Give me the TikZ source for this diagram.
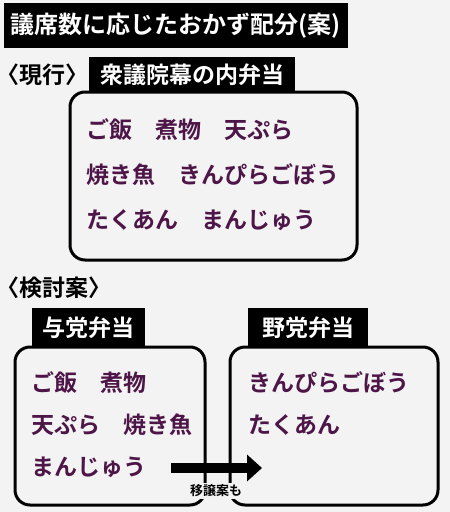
\documentclass[tikz,border=0pt]{standalone}
\usepackage{fontspec}
\setmainfont{Noto Sans CJK JP}[BoldFont={Noto Sans CJK JP Bold}]
\usetikzlibrary{arrows.meta}
\definecolor{bgc}{RGB}{243,243,243}
\definecolor{itemc}{RGB}{78,22,72}
\tikzset{
  blackbox/.style={fill=black, text=white, inner sep=0pt, font=\fontsize{23}{23}\selectfont\bfseries},
  frame/.style={draw=black, line width=3pt, rounded corners=15pt},
  item/.style={anchor=west, inner sep=0pt, text=itemc, font=\fontsize{23}{23}\selectfont\bfseries},
  section/.style={anchor=west, inner sep=0pt, text=black, font=\fontsize{23}{23}\selectfont\bfseries\addfontfeatures{RawFeature=+halt}},
  note/.style={fill=bgc, inner sep=2pt, text=black, font=\fontsize{13}{13}\selectfont\bfseries}
}
\begin{document}
\begin{tikzpicture}[x=1pt,y=-1pt]
\fill[bgc] (0,0) rectangle (450,512);
\useasboundingbox (0,0) rectangle (450,512);
% title
\node[blackbox, minimum width=344pt, minimum height=45pt, font=\fontsize{24}{24}\selectfont\bfseries] (title) at (176,25.5) {議席数に応じたおかず配分(案)};
% current
\node[section] (cur) at (8,75) {〈現行〉};
\draw[frame] (70,92) rectangle (357,260);
\node[blackbox, minimum width=206pt, minimum height=36pt] (shu) at (192,75) {衆議院幕の内弁当};
\node[item] (c1) at (86,130) {ご飯　煮物　天ぷら};
\node[item] (c2) at (86,175) {焼き魚　きんぴらごぼう};
\node[item] (c3) at (86,220) {たくあん　まんじゅう};
% proposal
\node[section] (prop) at (8,288) {〈検討案〉};
\coordinate (arrS) at (171,468);
\coordinate (arrE) at (262,468);
\draw[line width=10pt, -{Triangle[length=15pt,width=26pt]}] (arrS) -- (arrE);
\draw[frame] (15,347) rectangle (205,505);
\draw[frame] (230,347) rectangle (438,505);
\node[blackbox, minimum width=113pt, minimum height=40pt] (yoto) at (88.5,328) {与党弁当};
\node[blackbox, minimum width=120pt, minimum height=40pt] (yato) at (308,328) {野党弁当};
\node[item] (l1) at (31,383) {ご飯　煮物};
\node[item] (l2) at (31,425) {天ぷら　焼き魚};
\node[item] (l3) at (31,467) {まんじゅう};
\node[item] (r1) at (248,383) {きんぴらごぼう};
\node[item] (r2) at (248,425) {たくあん};
\node[note] (iso) at (216,491) {移譲案も};
\end{tikzpicture}
\end{document}
